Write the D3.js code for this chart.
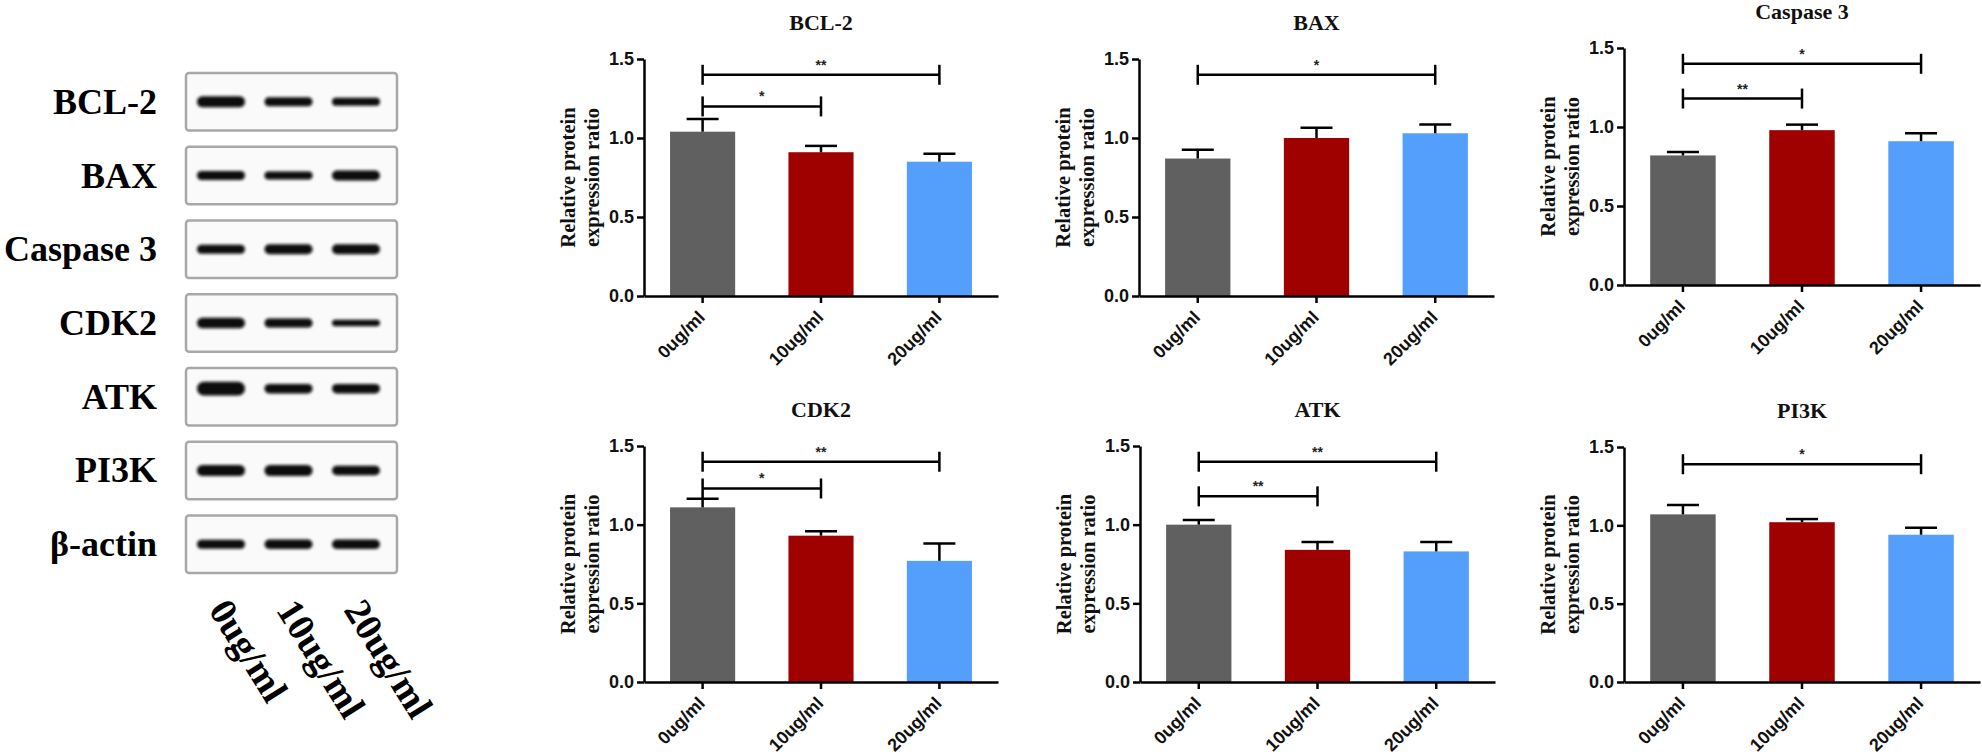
<!DOCTYPE html>
<html><head><meta charset="utf-8">
<script src="https://cdn.jsdelivr.net/npm/d3@7"></script>
<style>
html,body{margin:0;padding:0;background:#fff;}
svg{display:block;}
</style></head><body>
<svg id="chart" width="1982" height="754"></svg>
<script>
// ---------------- data ----------------
const groups = ["0ug/ml", "10ug/ml", "20ug/ml"];
const yTicks = [0, 0.5, 1.0, 1.5];
const yAxisTitle = ["Relative protein", "expression ratio"];

const meanBCL2 = [1.04, 0.91, 0.85];
const errBCL2  = [0.08, 0.04, 0.05];
const sigBCL2  = [[0, 2, 1.40, "**"], [0, 1, 1.20, "*"]];

const meanBAX = [0.87, 1.00, 1.03];
const errBAX  = [0.055, 0.065, 0.055];
const sigBAX  = [[0, 2, 1.40, "*"]];

const meanCASP3 = [0.82, 0.98, 0.91];
const errCASP3  = [0.022, 0.035, 0.05];
const sigCASP3  = [[0, 2, 1.40, "*"], [0, 1, 1.18, "**"]];

const meanCDK2 = [1.11, 0.93, 0.77];
const errCDK2  = [0.055, 0.028, 0.11];
const sigCDK2  = [[0, 2, 1.40, "**"], [0, 1, 1.23, "*"]];

const meanATK = [1.00, 0.84, 0.83];
const errATK  = [0.03, 0.05, 0.06];
const sigATK  = [[0, 2, 1.40, "**"], [0, 1, 1.18, "**"]];

const meanPI3K = [1.07, 1.02, 0.94];
const errPI3K  = [0.06, 0.02, 0.045];
const sigPI3K  = [[0, 2, 1.39, "*"]];

// western blot panel
const blotRows = ["BCL-2", "BAX", "Caspase 3", "CDK2", "ATK", "PI3K", "β-actin"];
const bandIntensity = [
  [1.05, 0.85, 0.75],
  [0.85, 0.75, 0.95],
  [0.85, 0.95, 0.95],
  [1.0, 0.85, 0.6],
  [1.3, 0.9, 0.9],
  [1.05, 1.05, 0.9],
  [0.85, 0.9, 0.9]
];

// ---------------- layout / style ----------------
const barColors = ["#606060", "#9f0000", "#539ffb"];
const serif = "'Liberation Serif','Times New Roman',serif";
const sans = "'Liberation Sans',Arial,sans-serif";

const panels = [
  {title: "BCL-2",     mean: meanBCL2,  err: errBCL2,  sig: sigBCL2,  ax: 644,  x1: 998,  top: 59,  bot: 296},
  {title: "BAX",       mean: meanBAX,   err: errBAX,   sig: sigBAX,   ax: 1139, x1: 1494, top: 59,  bot: 296},
  {title: "Caspase 3", mean: meanCASP3, err: errCASP3, sig: sigCASP3, ax: 1624, x1: 1980, top: 48,  bot: 285},
  {title: "CDK2",      mean: meanCDK2,  err: errCDK2,  sig: sigCDK2,  ax: 644,  x1: 998,  top: 446, bot: 682},
  {title: "ATK",       mean: meanATK,   err: errATK,   sig: sigATK,   ax: 1140, x1: 1495, top: 446, bot: 682},
  {title: "PI3K",      mean: meanPI3K,  err: errPI3K,  sig: sigPI3K,  ax: 1624, x1: 1980, top: 447, bot: 682}
];

const svg = d3.select("#chart");

// blur filter for blot bands
const defs = svg.append("defs");
defs.append("filter").attr("id", "blur").attr("x", "-20%").attr("y", "-100%").attr("width", "140%").attr("height", "300%")
  .append("feGaussianBlur").attr("stdDeviation", 1.6);

// ---------------- blot panel ----------------
const blot = svg.append("g");
const rowScale = d3.scaleBand().domain(blotRows).range([73, 573]).paddingInner(0.22);
const laneScale = d3.scalePoint().domain(groups).range([221, 356]);
const boxX0 = 186, boxX1 = 397;

blotRows.forEach((name, i) => {
  const yb = rowScale(name), h = rowScale.bandwidth();
  const cy = yb + h / 2;
  blot.append("rect").attr("x", boxX0).attr("y", yb).attr("width", boxX1 - boxX0).attr("height", h)
    .attr("rx", 3).attr("fill", "#fafafa").attr("stroke", "#a8a8a8").attr("stroke-width", 2.5);
  blot.append("text").attr("x", 157).attr("y", cy + 12).attr("text-anchor", "end")
    .attr("font-family", serif).attr("font-weight", "bold").attr("font-size", 36).attr("fill", "#000").text(name);
  const bandY = name === "ATK" ? yb + h * 0.36 : cy;
  groups.forEach((g, j) => {
    const th = 10.5 * bandIntensity[i][j];
    blot.append("rect").attr("x", laneScale(g) - 24).attr("y", bandY - th / 2).attr("width", 48).attr("height", th)
      .attr("rx", th / 2).attr("fill", "#0a0a0a").attr("filter", "url(#blur)");
  });
});
groups.forEach(g => {
  blot.append("text").attr("transform", `translate(${laneScale(g) - 13},610) rotate(58)`)
    .attr("font-family", serif).attr("font-weight", "bold").attr("font-size", 38).attr("fill", "#000").text(g);
});

// ---------------- bar panels ----------------
panels.forEach(p => {
  const g = svg.append("g");
  const x = d3.scaleBand().domain(groups).range([p.ax, p.x1]).paddingInner(0.45).paddingOuter(0.22);
  const y = d3.scaleLinear().domain([0, 1.5]).range([p.bot, p.top]);
  const cx = d => x(d) + x.bandwidth() / 2;

  // bars
  g.selectAll("rect.bar").data(groups).join("rect").attr("class", "bar")
    .attr("x", d => x(d)).attr("width", x.bandwidth())
    .attr("y", (d, i) => y(p.mean[i])).attr("height", (d, i) => y(0) - y(p.mean[i]))
    .attr("fill", (d, i) => barColors[i]);

  // error bars (upper only)
  groups.forEach((d, i) => {
    const yt = y(p.mean[i] + p.err[i]);
    g.append("line").attr("x1", cx(d)).attr("x2", cx(d)).attr("y1", y(p.mean[i])).attr("y2", yt)
      .attr("stroke", "#000").attr("stroke-width", 2.5);
    g.append("line").attr("x1", cx(d) - 16).attr("x2", cx(d) + 16).attr("y1", yt).attr("y2", yt)
      .attr("stroke", "#000").attr("stroke-width", 2.5);
  });

  // y axis
  const ya = g.append("g").attr("transform", `translate(${p.ax},0)`)
    .call(d3.axisLeft(y).tickValues(yTicks).tickFormat(d3.format(".1f")).tickSize(7).tickSizeOuter(0).tickPadding(3));
  ya.selectAll("path,line").attr("stroke", "#000").attr("stroke-width", 2.5);
  ya.selectAll("text").attr("font-family", sans).attr("font-weight", "bold").attr("font-size", 18).attr("fill", "#111");

  // x axis
  const xa = g.append("g").attr("transform", `translate(0,${p.bot})`)
    .call(d3.axisBottom(x).tickSize(7).tickSizeOuter(0));
  xa.selectAll("path,line").attr("stroke", "#000").attr("stroke-width", 2.5);
  xa.selectAll("text").attr("font-family", sans).attr("font-weight", "bold").attr("font-size", 18).attr("fill", "#111")
    .attr("x", 0).attr("y", 0).attr("dy", "0.35em").attr("text-anchor", "end")
    .attr("transform", "translate(-1,18) rotate(-45)");

  // y axis title
  yAxisTitle.forEach((t, k) => {
    g.append("text").attr("transform", `translate(${p.ax - 76 + k * 24},${(p.top + p.bot) / 2}) rotate(-90)`)
      .attr("text-anchor", "middle").attr("dy", "0.35em")
      .attr("font-family", serif).attr("font-weight", "bold").attr("font-size", 20.5).attr("fill", "#111").text(t);
  });

  // title
  g.append("text").attr("x", cx(groups[1])).attr("y", p.top - 29).attr("text-anchor", "middle")
    .attr("font-family", serif).attr("font-weight", "bold").attr("font-size", 22).attr("fill", "#111").text(p.title);

  // significance brackets
  p.sig.forEach(s => {
    const xa0 = cx(groups[s[0]]), xb = cx(groups[s[1]]), yy = y(s[2]);
    g.append("line").attr("x1", xa0).attr("x2", xb).attr("y1", yy).attr("y2", yy).attr("stroke", "#000").attr("stroke-width", 2.5);
    [xa0, xb].forEach(xx => g.append("line").attr("x1", xx).attr("x2", xx).attr("y1", yy - 10).attr("y2", yy + 10)
      .attr("stroke", "#000").attr("stroke-width", 2.5));
    g.append("text").attr("x", (xa0 + xb) / 2).attr("y", yy - 5).attr("text-anchor", "middle")
      .attr("font-family", sans).attr("font-weight", "bold").attr("font-size", 14).attr("fill", "#222").text(s[3]);
  });
});
</script>
</body></html>
